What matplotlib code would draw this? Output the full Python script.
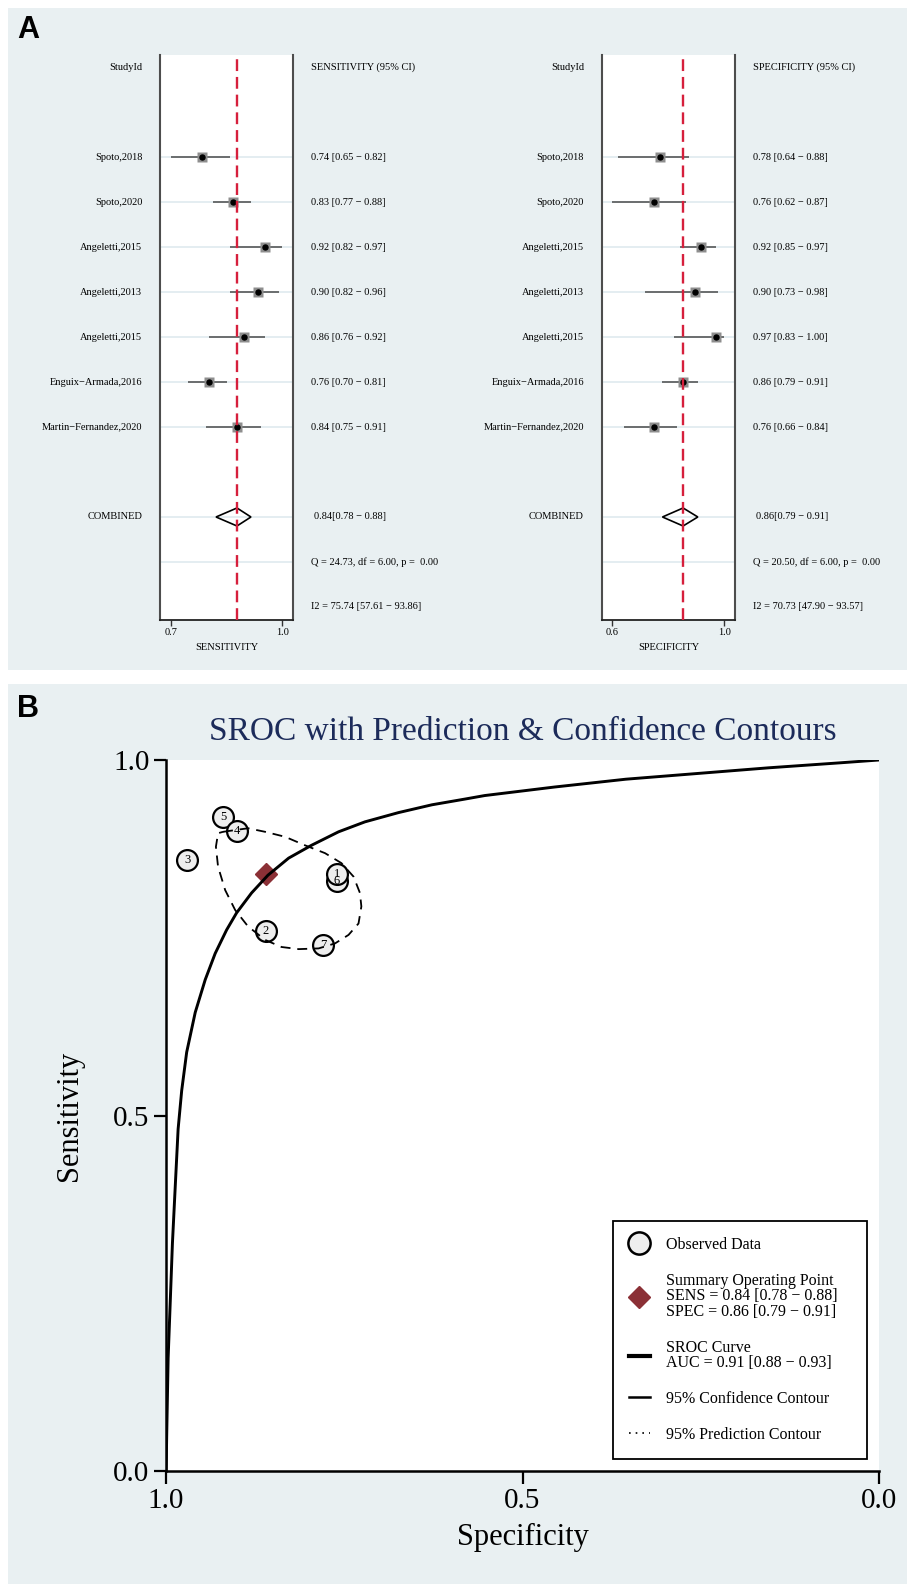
import numpy as np
import matplotlib
matplotlib.use("Agg")
import matplotlib.pyplot as plt
import matplotlib.transforms as mtransforms
from matplotlib.patches import Rectangle, Polygon
from matplotlib.lines import Line2D

# ---- data -------------------------------------------------------------
studies = ["Spoto,2018", "Spoto,2020", "Angeletti,2015", "Angeletti,2013",
           "Angeletti,2015", "Enguix\u2212Armada,2016", "Martin\u2212Fernandez,2020"]

sens = [0.74, 0.83, 0.92, 0.90, 0.86, 0.76, 0.84]
sens_lo = [0.65, 0.77, 0.82, 0.82, 0.76, 0.70, 0.75]
sens_hi = [0.82, 0.88, 0.97, 0.96, 0.92, 0.81, 0.91]

spec = [0.78, 0.76, 0.92, 0.90, 0.97, 0.86, 0.76]
spec_lo = [0.64, 0.62, 0.85, 0.73, 0.83, 0.79, 0.66]
spec_hi = [0.88, 0.87, 0.97, 0.98, 1.00, 0.91, 0.84]

pooled_sens, pooled_sens_ci = 0.84, (0.78, 0.88)
pooled_spec, pooled_spec_ci = 0.86, (0.79, 0.91)
sens_q = "Q = 24.73, df = 6.00, p =  0.00"
sens_i2 = "I2 = 75.74 [57.61 \u2212 93.86]"
spec_q = "Q = 20.50, df = 6.00, p =  0.00"
spec_i2 = "I2 = 70.73 [47.90 \u2212 93.57]"

# SROC curve (specificity, sensitivity)
sroc_spec = [1.000, 0.9995, 0.999, 0.997, 0.994, 0.991, 0.987, 0.983, 0.978, 0.971,
             0.959, 0.945, 0.931, 0.915, 0.901, 0.880, 0.857, 0.828, 0.796, 0.758,
             0.721, 0.674, 0.627, 0.581, 0.553, 0.455, 0.355, 0.255, 0.155, 0.055, 0.000]
sroc_sens = [0.000, 0.020, 0.051, 0.159, 0.239, 0.320, 0.401, 0.481, 0.535, 0.589,
             0.645, 0.691, 0.728, 0.761, 0.785, 0.813, 0.838, 0.862, 0.880, 0.899,
             0.913, 0.926, 0.937, 0.945, 0.950, 0.962, 0.973, 0.981, 0.989, 0.996, 1.000]

# 95% confidence contour
conf_spec = [0.920, 0.885, 0.861, 0.833, 0.805, 0.777, 0.754, 0.737, 0.728, 0.726,
             0.730, 0.744, 0.763, 0.786, 0.814, 0.838, 0.861, 0.885, 0.903, 0.917,
             0.927, 0.930, 0.927, 0.920]
conf_sens = [0.899, 0.904, 0.899, 0.892, 0.880, 0.869, 0.855, 0.836, 0.813, 0.794,
             0.770, 0.754, 0.742, 0.735, 0.734, 0.737, 0.747, 0.766, 0.789, 0.817,
             0.850, 0.878, 0.897, 0.899]

auc_text = "AUC = 0.91 [0.88 \u2212 0.93]"

# ---- layout -----------------------------------------------------------
W, H = 909, 1586
BG = "#e9f0f2"
GRID = "#e4edf1"
plt.rcParams["font.family"] = ["Liberation Serif", "DejaVu Serif"]


def fig_box(x0, y0, x1, y1):
    return [x0 / W, 1 - y1 / H, (x1 - x0) / W, (y1 - y0) / H]


fig = plt.figure(figsize=(W / 100, H / 100), dpi=100)
for x0, y0, x1, y1 in [(8, 8, 907, 670), (8, 684, 907, 1584)]:
    fig.patches.append(Rectangle((x0 / W, 1 - y1 / H), (x1 - x0) / W, (y1 - y0) / H,
                                 transform=fig.transFigure, facecolor=BG,
                                 edgecolor="none", zorder=-5))

fig.text(17 / W, 1 - 30 / H, "A", fontsize=22, weight="bold", family="Liberation Sans",
         ha="left", va="center")
fig.text(17 / W, 1 - 709 / H, "B", fontsize=22, weight="bold", family="Liberation Sans",
         ha="left", va="center")

FS = 7.5


def forest(rect, est, lo, hi, pooled, pooled_ci, name, q_text, i2_text):
    ax = fig.add_axes(rect)
    ax.set_facecolor("white")
    n = len(est)
    rows = np.arange(2, 2 + n)
    comb_row = rows[-1] + 2
    q_row, i2_row = comb_row + 1, comb_row + 2

    for r in list(rows) + [comb_row, q_row]:
        ax.axhline(r, color=GRID, lw=1.4, zorder=1)
    ax.axvline(pooled, color="#d61f3c", lw=1.7, ls=(0, (5, 2.5)), zorder=6)
    ax.hlines(rows, lo, hi, color="#4a4a4a", lw=1.1, zorder=2)
    ax.plot(est, rows, "s", ms=7, color="#8e8e8e", mec="none", zorder=3)
    ax.plot(est, rows, "o", ms=3.6, color="black", zorder=5)
    ax.add_patch(Polygon([(pooled_ci[0], comb_row), (pooled, comb_row - 0.2),
                          (pooled_ci[1], comb_row), (pooled, comb_row + 0.2)],
                         closed=True, fill=False, ec="black", lw=1.2, zorder=5))

    xmin, xmax = min(lo), max(hi)
    pad = 0.095 * (xmax - xmin)
    ax.set_xlim(xmin - pad, xmax + pad)
    ax.set_ylim(12.29, -0.27)
    ax.set_xticks([xmin, xmax])
    ax.set_xticklabels([f"{xmin:.1f}", f"{xmax:.1f}"])
    ax.set_yticks([])
    ax.tick_params(axis="x", length=4.5, width=1.0, pad=1.5, labelsize=FS, color="#333333")
    ax.spines["top"].set_visible(False)
    for s in ("left", "right"):
        ax.spines[s].set_color("#4d4d4d")
        ax.spines[s].set_linewidth(1.5)
    ax.spines["bottom"].set_color("#222222")
    ax.spines["bottom"].set_linewidth(1.3)
    ax.set_xlabel(name, fontsize=FS, va="center")
    ax.xaxis.set_label_coords(0.5, -0.048)

    tr = mtransforms.blended_transform_factory(ax.transAxes, ax.transData)
    lx, rx = -0.133, 1.135
    ax.text(lx, 0, "StudyId", ha="right", va="center", transform=tr, fontsize=FS)
    ax.text(rx, 0, f"{name} (95% CI)", ha="left", va="center", transform=tr, fontsize=FS)
    for r, s, e, l, h in zip(rows, studies, est, lo, hi):
        ax.text(lx, r, s, ha="right", va="center", transform=tr, fontsize=FS)
        ax.text(rx, r, f"{e:.2f} [{l:.2f} \u2212 {h:.2f}]", ha="left", va="center",
                transform=tr, fontsize=FS)
    ax.text(lx, comb_row, "COMBINED", ha="right", va="center", transform=tr, fontsize=FS)
    ax.text(rx + 0.02, comb_row, f"{pooled:.2f}[{pooled_ci[0]:.2f} \u2212 {pooled_ci[1]:.2f}]",
            ha="left", va="center", transform=tr, fontsize=FS)
    ax.text(rx, q_row, q_text, ha="left", va="center", transform=tr, fontsize=FS)
    ax.text(rx, i2_row, i2_text, ha="left", va="center", transform=tr, fontsize=FS)
    return ax


forest(fig_box(160, 55, 293, 620), sens, sens_lo, sens_hi, pooled_sens, pooled_sens_ci,
       "SENSITIVITY", sens_q, sens_i2)
forest(fig_box(601.7, 55, 735, 620), spec, spec_lo, spec_hi, pooled_spec, pooled_spec_ci,
       "SPECIFICITY", spec_q, spec_i2)

# ---- SROC panel ---------------------------------------------------------
ax = fig.add_axes(fig_box(166, 760, 879, 1471))
ax.set_facecolor("white")
ax.set_xlim(1, 0)
ax.set_ylim(0, 1)

ax.plot(spec, sens, "o", ls="none", ms=15, mfc="#eeeeee", mec="black", mew=1.6, zorder=3)
for i, (sp, se) in enumerate(zip(spec, sens)):
    ax.text(sp, se, str(len(spec) - i), ha="center", va="center", fontsize=9, zorder=4)
ax.plot(pooled_spec, pooled_sens, "D", ms=11.5, color="#8b3036", zorder=5)
ax.plot(sroc_spec, sroc_sens, color="black", lw=2.1, zorder=6,
        solid_joinstyle="round", solid_capstyle="round")
ax.plot(conf_spec, conf_sens, color="black", lw=1.3, ls=(0, (5.5, 3.8)), zorder=7)

ax.set_xticks([1.0, 0.5, 0.0])
ax.set_xticklabels(["1.0", "0.5", "0.0"])
ax.set_yticks([0.0, 0.5, 1.0])
ax.set_yticklabels(["0.0", "0.5", "1.0"])
ax.tick_params(length=9, width=1.6, labelsize=21, pad=3)
ax.spines["top"].set_visible(False)
ax.spines["right"].set_visible(False)
ax.spines["left"].set_linewidth(1.8)
ax.spines["bottom"].set_linewidth(1.8)
ax.set_xlabel("Specificity", fontsize=22, va="center")
ax.xaxis.set_label_coords(0.5, -0.093)
ax.set_ylabel("Sensitivity", fontsize=22, va="center")
ax.yaxis.set_label_coords(-0.135, 0.5)
ax.text(0.5, 1 + 28 / 711, "SROC with Prediction & Confidence Contours",
        transform=ax.transAxes, ha="center", va="center", fontsize=24, color="#1c2b5a")

handles = [
    Line2D([], [], marker="o", ls="none", ms=16, mfc="#eeeeee", mec="black", mew=1.8),
    Line2D([], [], marker="D", ls="none", ms=11, color="#8b3036"),
    Line2D([], [], color="black", lw=3),
    Line2D([], [], color="black", lw=1.8),
    Line2D([], [], color="black", lw=1.2, ls=(0, (1, 3))),
]
labels = [
    "Observed Data",
    f"Summary Operating Point\nSENS = {pooled_sens:.2f} [{pooled_sens_ci[0]:.2f} \u2212 {pooled_sens_ci[1]:.2f}]"
    f"\nSPEC = {pooled_spec:.2f} [{pooled_spec_ci[0]:.2f} \u2212 {pooled_spec_ci[1]:.2f}]",
    "SROC Curve\n" + auc_text,
    "95% Confidence Contour",
    "95% Prediction Contour",
]
leg = ax.legend(handles, labels, loc="lower left", bbox_to_anchor=(0.627, 0.017, 0.356, 0.33),
                mode="expand", borderaxespad=0, frameon=True, fancybox=False,
                edgecolor="black", fontsize=11.5, handlelength=1.3, handletextpad=1.0,
                labelspacing=1.25, borderpad=1.0)
leg.get_frame().set_linewidth(1.3)
leg.get_frame().set_facecolor("white")
leg.get_frame().set_alpha(1)
for t in leg.get_texts():
    t.set_linespacing(0.95)

fig.savefig("out.png", dpi=100)
plt.close(fig)
